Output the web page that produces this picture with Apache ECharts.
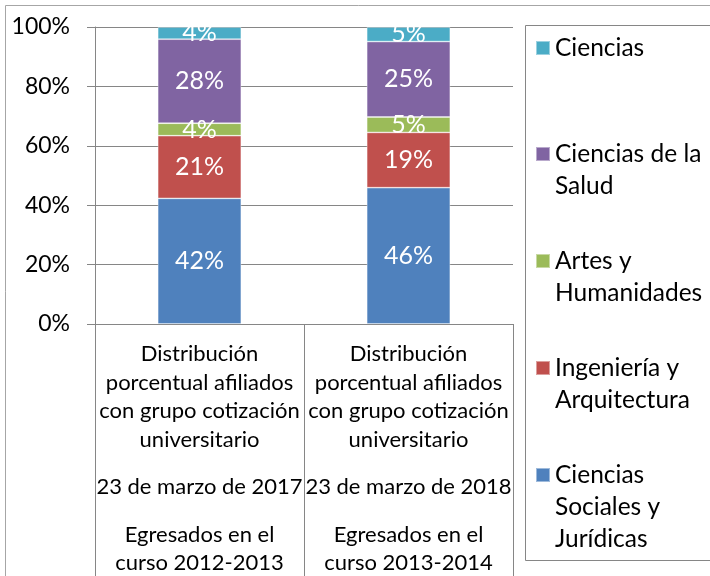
<!DOCTYPE html>
<html>
<head>
<meta charset="utf-8">
<script src="https://cdn.jsdelivr.net/npm/echarts@6/dist/echarts.min.js"></script>
<style>
  html, body { margin: 0; padding: 0; background: #fff; }
  #chart { width: 710px; height: 576px; }
</style>
</head>
<body>
<div id="chart"></div>
<script>
// categorias (cada una con tres niveles de texto)
const catTitle = ['Distribución', 'porcentual afiliados', 'con grupo cotización', 'universitario'];
const catDates = ['23 de marzo de 2017', '23 de marzo de 2018'];
const catCohort = [['Egresados en el', 'curso 2012-2013'], ['Egresados en el', 'curso 2013-2014']];

// series de abajo hacia arriba (% del total)
const seriesNames = ['Ciencias Sociales y Jurídicas', 'Ingeniería y Arquitectura', 'Artes y Humanidades', 'Ciencias de la Salud', 'Ciencias'];
const socialesJuridicas = [42.3, 45.9];
const ingenieriaArq = [21.1, 18.6];
const artesHumanidades = [4.2, 5.2];
const cienciasSalud = [28.3, 25.4];
const ciencias = [4.1, 4.9];

// texto de la leyenda tal como aparece (en varias lineas)
const legendLines = {
  'Ciencias': ['Ciencias'],
  'Ciencias de la Salud': ['Ciencias de la', 'Salud'],
  'Artes y Humanidades': ['Artes y', 'Humanidades'],
  'Ingeniería y Arquitectura': ['Ingeniería y', 'Arquitectura'],
  'Ciencias Sociales y Jurídicas': ['Ciencias', 'Sociales y', 'Jurídicas']
};
const legendOrder = ['Ciencias', 'Ciencias de la Salud', 'Artes y Humanidades', 'Ingeniería y Arquitectura', 'Ciencias Sociales y Jurídicas'];

const colors = {
  'Ciencias Sociales y Jurídicas': '#4F81BD',
  'Ingeniería y Arquitectura': '#C0504D',
  'Artes y Humanidades': '#9BBB59',
  'Ciencias de la Salud': '#8064A2',
  'Ciencias': '#4BACC6'
};

const FONT = 'Lato';
const chart = echarts.init(document.getElementById('chart'));

const values = [socialesJuridicas, ingenieriaArq, artesHumanidades, cienciasSalud, ciencias];
const series = seriesNames.map(function (name, i) {
  return {
    name: name,
    type: 'bar',
    stack: 'total',
    barWidth: '40%',
    data: values[i],
    itemStyle: { color: colors[name], borderColor: 'rgba(255,255,255,0.45)', borderWidth: 0.8 },
    label: {
      show: true,
      position: 'inside',
      color: '#fff',
      fontFamily: FONT,
      fontSize: 25,
      formatter: function (p) { return Math.round(p.value) + '%'; }
    }
  };
});

// una leyenda por serie para poder colocarlas como en el original
const legendCenters = [48, 154, 261, 368, 475];
const LEG_LH = 32;
const legends = legendOrder.map(function (name, i) {
  const lines = legendLines[name];
  const n = lines.length;
  const h = (2 * n - 1) * LEG_LH;
  return {
    data: [name],
    left: 535,
    top: legendCenters[i] - h / 2,
    padding: 0,
    icon: 'rect',
    itemWidth: 14,
    itemHeight: 14,
    selectedMode: false,
    textStyle: { fontFamily: FONT, fontSize: 24.5, color: '#000', lineHeight: LEG_LH },
    formatter: function () {
      const blanks = [];
      for (let k = 0; k < n - 1; k++) blanks.push('');
      return blanks.concat(lines).join('\n');
    }
  };
});

const option = {
  animation: false,
  textStyle: { fontFamily: FONT },
  grid: { left: 95, top: 27, right: 197, bottom: 252, containLabel: false },
  legend: legends,
  xAxis: {
    type: 'category',
    data: catDates,
    axisLine: { lineStyle: { color: '#868686', width: 1 } },
    axisTick: { show: true, length: 260, lineStyle: { color: '#868686' } },
    axisLabel: {
      interval: 0,
      margin: 16,
      color: '#000',
      formatter: function (value, idx) {
        const parts = catTitle.map(function (t) { return '{t|' + t + '}'; });
        parts.push('{g| }');
        parts.push('{t|' + catDates[idx] + '}');
        parts.push('{g| }');
        catCohort[idx].forEach(function (t) { parts.push('{t|' + t + '}'); });
        return parts.join('\n');
      },
      rich: {
        t: { fontFamily: FONT, fontSize: 22, lineHeight: 28.5, color: '#000' },
        g: { fontSize: 10, lineHeight: 19 }
      }
    }
  },
  yAxis: {
    type: 'value',
    min: 0,
    max: 100,
    interval: 20,
    axisLine: { show: true, lineStyle: { color: '#868686', width: 1 } },
    axisTick: { show: true, length: 8, lineStyle: { color: '#868686' } },
    splitLine: { lineStyle: { color: '#868686', width: 1 } },
    axisLabel: {
      margin: 25,
      color: '#000',
      fontFamily: FONT,
      fontSize: 23,
      formatter: '{value}%'
    }
  },
  graphic: [
    { type: 'rect', shape: { x: 5.5, y: 5.5, width: 900, height: 900 }, style: { fill: 'none', stroke: '#a6a6a6', lineWidth: 1 }, silent: true },
    { type: 'rect', shape: { x: 525.5, y: 25.5, width: 300, height: 535 }, style: { fill: 'none', stroke: '#868686', lineWidth: 1 }, silent: true }
  ],
  series: series
};

chart.setOption(option);
</script>
</body>
</html>
